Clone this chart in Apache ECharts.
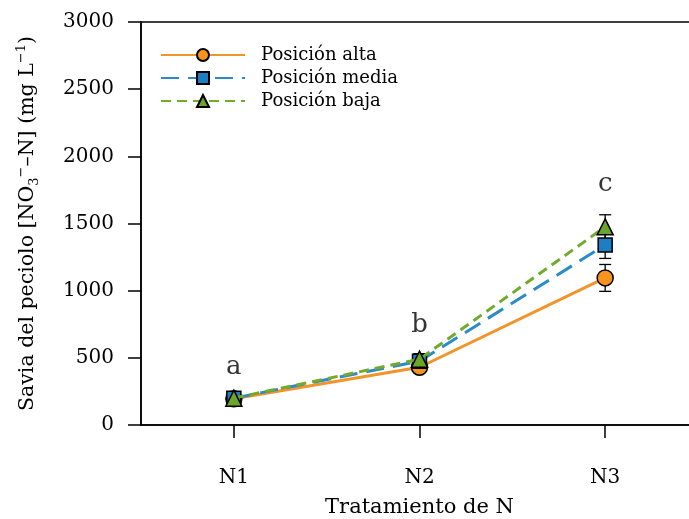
<!DOCTYPE html>
<html>
<head>
<meta charset="utf-8">
<script src="https://cdn.jsdelivr.net/npm/echarts@6/dist/echarts.min.js"></script>
<style>html,body{margin:0;padding:0;background:#fff;}#c{width:689px;height:519px;}</style>
</head>
<body>
<div id="c"></div>
<script>
const categories = ['N1', 'N2', 'N3'];
const seriesNames = ['Posición alta', 'Posición media', 'Posición baja'];
const alta = [195, 430, 1095];
const altaErr = [20, 30, 100];
const media = [200, 475, 1340];
const mediaErr = [20, 55, 100];
const baja = [200, 490, 1475];
const bajaErr = [20, 40, 90];
const letters = ['a', 'b', 'c'];
const letterValues = [430, 745, 1790];
const yMin = 0, yMax = 3000, yStep = 500;

const FONT = 'DejaVu Serif';
const colors = ['#F2942A', '#2A8BC8', '#72AA2E'];

const chart = echarts.init(document.getElementById('c'), null, {renderer: 'canvas'});

function errSeries(vals, errs, z) {
  return {
    type: 'custom',
    z: z,
    silent: true,
    data: categories.map((c, i) => [i, vals[i] - errs[i], vals[i] + errs[i]]),
    renderItem: function (params, api) {
      const lo = api.coord([api.value(0), api.value(1)]);
      const hi = api.coord([api.value(0), api.value(2)]);
      const w = 6;
      const st = {stroke: '#000', lineWidth: 1.3};
      return {
        type: 'group',
        children: [
          {type: 'line', shape: {x1: lo[0], y1: lo[1], x2: hi[0], y2: hi[1]}, style: st},
          {type: 'line', shape: {x1: lo[0] - w, y1: lo[1], x2: lo[0] + w, y2: lo[1]}, style: st},
          {type: 'line', shape: {x1: hi[0] - w, y1: hi[1], x2: hi[0] + w, y2: hi[1]}, style: st}
        ]
      };
    }
  };
}

function lineSeries(name, vals, color, fill, symbol, size, dash, z) {
  return {
    name: name,
    type: 'line',
    z: z,
    data: vals,
    symbol: symbol,
    symbolSize: size,
    showAllSymbol: true,
    lineStyle: {color: color, width: 3, type: dash},
    itemStyle: {color: fill, borderColor: '#000', borderWidth: 1.5, opacity: 1},
    emphasis: {disabled: true}
  };
}

const option = {
  animation: false,
  backgroundColor: '#fff',
  grid: {
    left: 141, top: 22, width: 557, height: 403,
    outerBoundsMode: 'none',
    containLabel: false,
    show: true, borderColor: '#000', borderWidth: 1.5, backgroundColor: 'transparent'
  },
  legend: {
    data: seriesNames,
    orient: 'vertical',
    left: 160, top: 46,
    padding: 0,
    itemWidth: 84, itemHeight: 15,
    itemGap: 5,
    textStyle: {fontFamily: FONT, fontSize: 18, color: '#000', padding: [0, 0, 0, 11]},
    selectedMode: false
  },
  xAxis: {
    type: 'category',
    data: categories,
    boundaryGap: true,
    axisLine: {show: true, lineStyle: {color: '#000', width: 1.5}},
    axisTick: {show: true, inside: false, alignWithLabel: true, length: 13, lineStyle: {color: '#000', width: 1.5}},
    axisLabel: {fontFamily: FONT, fontSize: 20, color: '#000', margin: 43},
    splitLine: {show: false},
    name: 'Tratamiento de N',
    nameLocation: 'middle',
    nameGap: 72,
    nameTextStyle: {fontFamily: FONT, fontSize: 21, color: '#000'}
  },
  yAxis: {
    type: 'value',
    min: yMin, max: yMax, interval: yStep,
    axisLine: {show: true, lineStyle: {color: '#000', width: 1.5}},
    axisTick: {show: true, inside: false, length: 13, lineStyle: {color: '#000', width: 1.5}},
    axisLabel: {fontFamily: FONT, fontSize: 20, color: '#000', margin: 27, formatter: v => String(v)},
    splitLine: {show: false},
    name: '{t|Savia del peciolo [NO}{sub|3}{sup|−}{t|–N] (mg L}{sup|−1}{t|)}',
    nameLocation: 'middle',
    nameRotate: 90,
    nameGap: 100,
    nameTextStyle: {
      fontFamily: FONT, fontSize: 20.5, color: '#000',
      rich: {
        t: {fontFamily: FONT, fontSize: 20.5, color: '#000', lineHeight: 26, verticalAlign: 'middle'},
        sub: {fontFamily: FONT, fontSize: 13, color: '#000', lineHeight: 26, verticalAlign: 'bottom'},
        sup: {fontFamily: FONT, fontSize: 13, color: '#000', lineHeight: 26, verticalAlign: 'top'}
      }
    }
  },
  series: [
    errSeries(alta, altaErr, 1),
    errSeries(media, mediaErr, 1),
    errSeries(baja, bajaErr, 1),
    lineSeries(seriesNames[0], alta, colors[0], '#F7941D', 'circle', 16, 'solid', 3),
    lineSeries(seriesNames[1], media, colors[1], '#1E7EC4', 'rect', 14, [18, 9], 4),
    lineSeries(seriesNames[2], baja, colors[2], '#6BA52B', 'triangle', 16, [10, 6], 5),
    {
      type: 'scatter',
      z: 6,
      silent: true,
      symbolSize: 1,
      itemStyle: {color: 'transparent'},
      data: letters.map((l, i) => [i, letterValues[i]]),
      label: {
        show: true, position: 'inside',
        fontFamily: FONT, fontSize: 26, color: '#000',
        formatter: p => letters[p.dataIndex]
      }
    }
  ]
};
chart.setOption(option);
</script>
</body>
</html>
